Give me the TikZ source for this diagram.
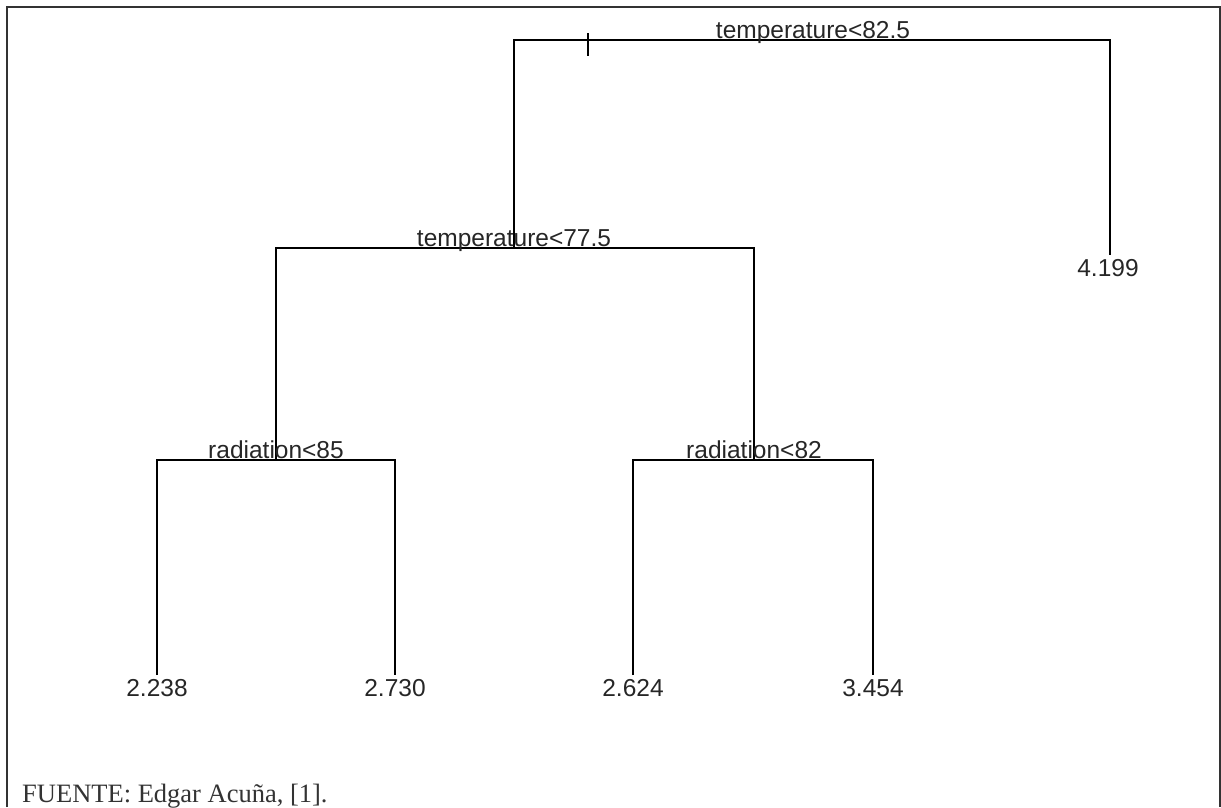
\documentclass[tikz,border=0pt]{standalone}
\usepackage{fontspec}
\setmainfont{Liberation Serif}
\newfontfamily\treefont{Liberation Sans}
\begin{document}
\begin{tikzpicture}[x=1pt,y=-1pt,
  branch/.style={line width=1.3pt, draw=black},
  frameline/.style={line width=2.4pt, draw=black!80},
  split/.style={font=\treefont\fontsize{24.5}{29}\selectfont, text=black!85, inner sep=0pt, anchor=base},
  leaf/.style={font=\treefont\fontsize{24.5}{29}\selectfont, text=black!85, inner sep=0pt, anchor=north},
  caption/.style={font=\fontsize{26.5}{30}\selectfont, text=black!80, inner sep=0pt, anchor=base west}]
\useasboundingbox (0,0) rectangle (1221,807);

% open frame around the plot
\draw[frameline] (7,807) -- (7,7) -- (1220,7) -- (1220,807);

% split points of the tree
\coordinate (s1L) at (514,40);  \coordinate (s1R) at (1110,40);
\coordinate (s2L) at (276,248); \coordinate (s2R) at (754,248);
\coordinate (s3L) at (157,460); \coordinate (s3R) at (395,460);
\coordinate (s4L) at (633,460); \coordinate (s4R) at (873,460);

% lower ends of the terminal stems
\coordinate (e1) at (157,675);
\coordinate (e2) at (395,675);
\coordinate (e3) at (633,675);
\coordinate (e4) at (873,675);
\coordinate (e5) at (1110,255);

% branches
\draw[branch] (s1L |- s2L) -- (s1L) -- (s1R) -- (e5);
\draw[branch] (s2L |- s3L) -- (s2L) -- (s2R) -- (s2R |- s4L);
\draw[branch] (e1) -- (s3L) -- (s3R) -- (e2);
\draw[branch] (e3) -- (s4L) -- (s4R) -- (e4);

% small mark on the root branch
\coordinate (tk) at (588,33);
\draw[branch] (tk) -- ++(0,23);

% split labels
\node[split] (t1) at (813,38) {temperature<82.5};
\node[split] (t2) at (514,246) {temperature<77.5};
\node[split] (t3) at (276,458) {radiation<85};
\node[split] (t4) at (754,458) {radiation<82};

% fitted values
\node[leaf] (v1) at (157,679) {2.238};
\node[leaf] (v2) at (395,679) {2.730};
\node[leaf] (v3) at (633,679) {2.624};
\node[leaf] (v4) at (873,679) {3.454};
\node[leaf] (v5) at (1108,259) {4.199};

% source line
\node[caption] (src) at (22,802) {FUENTE: Edgar Acuña, [1].};
\end{tikzpicture}
\end{document}
